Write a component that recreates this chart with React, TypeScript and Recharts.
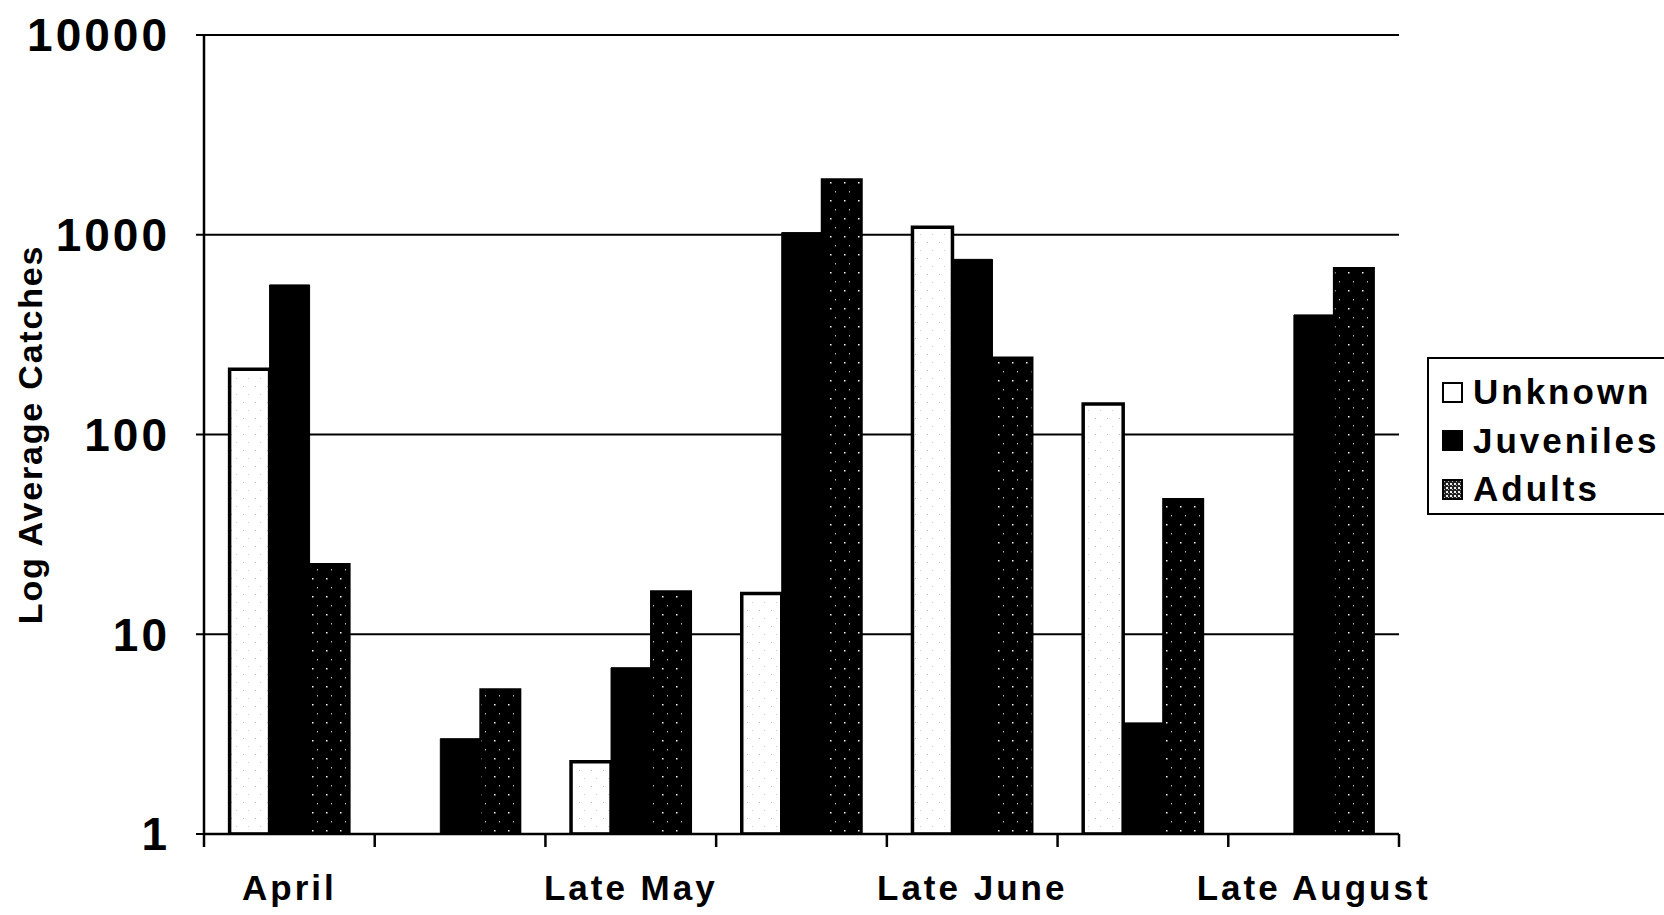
import { Bar, BarChart, CartesianGrid, XAxis, YAxis } from "recharts";

const periods = ["April", "Early May", "Late May", "Early June", "Late June", "Late July", "Late August"];
const unknown = [212, null, 2.3, 16, 1090, 142, null];
const juveniles = [561, 3.0, 6.8, 1025, 753, 3.6, 397];
const adults = [22.5, 5.3, 16.4, 1897, 243, 47.5, 682];
const yTicks = [1, 10, 100, 1000, 10000];

const seriesNames = ["Unknown", "Juveniles", "Adults"];

const data = periods.map((period, i) => ({
  period,
  unknown: unknown[i],
  juveniles: juveniles[i],
  adults: adults[i],
}));

const FONT = '"Liberation Sans", Arial, sans-serif';

// Excel style: tick marks sit between categories, only every other label shown
function PeriodTick(props: any) {
  const { x, y, index, width, payload } = props;
  const band = width / periods.length;
  const last = index === periods.length - 1;
  return (
    <g>
      <line x1={x - band / 2} x2={x - band / 2} y1={y} y2={y + 13} stroke="#000" strokeWidth={2.5} />
      {last && <line x1={x + band / 2} x2={x + band / 2} y1={y} y2={y + 13} stroke="#000" strokeWidth={2.5} />}
      {index % 2 === 0 && (
        <text
          x={x}
          y={y + 66}
          textAnchor="middle"
          fontFamily={FONT}
          fontWeight={700}
          fontSize={35}
          letterSpacing={3}
          fill="#000"
        >
          {payload.value}
        </text>
      )}
    </g>
  );
}

function LegendBox() {
  const icons = [
    <span key="u" style={{ display: "inline-block", width: 17, height: 17, border: "2px solid #000", background: "#fff" }} />,
    <span key="j" style={{ display: "inline-block", width: 21, height: 21, background: "#000" }} />,
    <svg key="a" width={21} height={21}>
      <defs>
        <pattern id="adultsIcon" width={4} height={4} patternUnits="userSpaceOnUse">
          <rect width={4} height={4} fill="#222" />
          <rect x={0} y={0} width={2} height={2} fill="#eee" />
          <rect x={2} y={2} width={1} height={1} fill="#bbb" />
        </pattern>
      </defs>
      <rect x={1} y={1} width={19} height={19} fill="url(#adultsIcon)" stroke="#000" strokeWidth={2} />
    </svg>,
  ];
  return (
    <div
      style={{
        position: "absolute",
        left: 1427,
        top: 357,
        border: "2.5px solid #000",
        width: 260,
        height: 158,
        boxSizing: "border-box",
        paddingTop: 9,
        paddingLeft: 13,
        background: "#fff",
      }}
    >
      {seriesNames.map((name, i) => (
        <div key={name} style={{ display: "flex", alignItems: "center", height: 48.5 }}>
          {icons[i]}
          <span
            style={{
              marginLeft: 10,
              fontFamily: FONT,
              fontWeight: 700,
              fontSize: 35,
              letterSpacing: 3,
              color: "#000",
              lineHeight: "40px",
            }}
          >
            {name}
          </span>
        </div>
      ))}
    </div>
  );
}

export default function App() {
  return (
    <div style={{ position: "absolute", left: 0, top: 0, width: 1664, height: 915, overflow: "hidden", background: "#fff" }}>
      <BarChart
        width={1664}
        height={915}
        data={data}
        margin={{ top: 35, right: 265, bottom: 0, left: 0 }}
        barCategoryGap="15%"
        barGap={0}
      >
        <defs>
          <pattern id="adultsFill" width={14} height={18} patternUnits="userSpaceOnUse">
            <rect width={14} height={18} fill="#000" />
            <rect x={4} y={2} width={1.5} height={1.5} fill="#fff" />
            <rect x={9} y={11} width={1} height={1.5} fill="#bbb" />
          </pattern>
          <pattern id="unknownFill" width={12} height={16} patternUnits="userSpaceOnUse">
            <rect width={12} height={16} fill="#fff" />
            <rect x={3} y={2} width={1} height={1} fill="#bbb" />
            <rect x={8} y={10} width={1} height={1} fill="#ccc" />
          </pattern>
        </defs>
        <CartesianGrid vertical={false} stroke="#000" strokeWidth={2} />
        <XAxis
          dataKey="period"
          interval={0}
          tick={<PeriodTick />}
          tickLine={false}
          tickSize={0}
          tickMargin={0}
          height={81}
          axisLine={{ stroke: "#000", strokeWidth: 2.5 }}
        />
        <YAxis
          scale="log"
          type="number"
          domain={[1, 10000]}
          ticks={yTicks}
          allowDataOverflow
          width={204}
          tickSize={8}
          tickMargin={26}
          axisLine={{ stroke: "#000", strokeWidth: 2.5 }}
          tickLine={{ stroke: "#000", strokeWidth: 2 }}
          tick={{ fill: "#000", fontSize: 46, fontWeight: 700, fontFamily: FONT, letterSpacing: 3 }}
          label={{
            content: (props: any) => {
              const vb = props.viewBox;
              const cx = vb.x + 30;
              const cy = vb.y + vb.height / 2;
              return (
                <text
                  x={cx}
                  y={cy}
                  transform={`rotate(-90 ${cx} ${cy})`}
                  textAnchor="middle"
                  dominantBaseline="central"
                  fontFamily={FONT}
                  fontWeight={700}
                  fontSize={34}
                  letterSpacing={1.8}
                  fill="#000"
                >
                  Log Average Catches
                </text>
              );
            },
          }}
        />
        <Bar dataKey="unknown" name="Unknown" fill="url(#unknownFill)" stroke="#000" strokeWidth={3.5} isAnimationActive={false} />
        <Bar dataKey="juveniles" name="Juveniles" fill="#000" stroke="#000" strokeWidth={1} isAnimationActive={false} />
        <Bar dataKey="adults" name="Adults" fill="url(#adultsFill)" stroke="#000" strokeWidth={2} isAnimationActive={false} />
      </BarChart>
      <LegendBox />
    </div>
  );
}
